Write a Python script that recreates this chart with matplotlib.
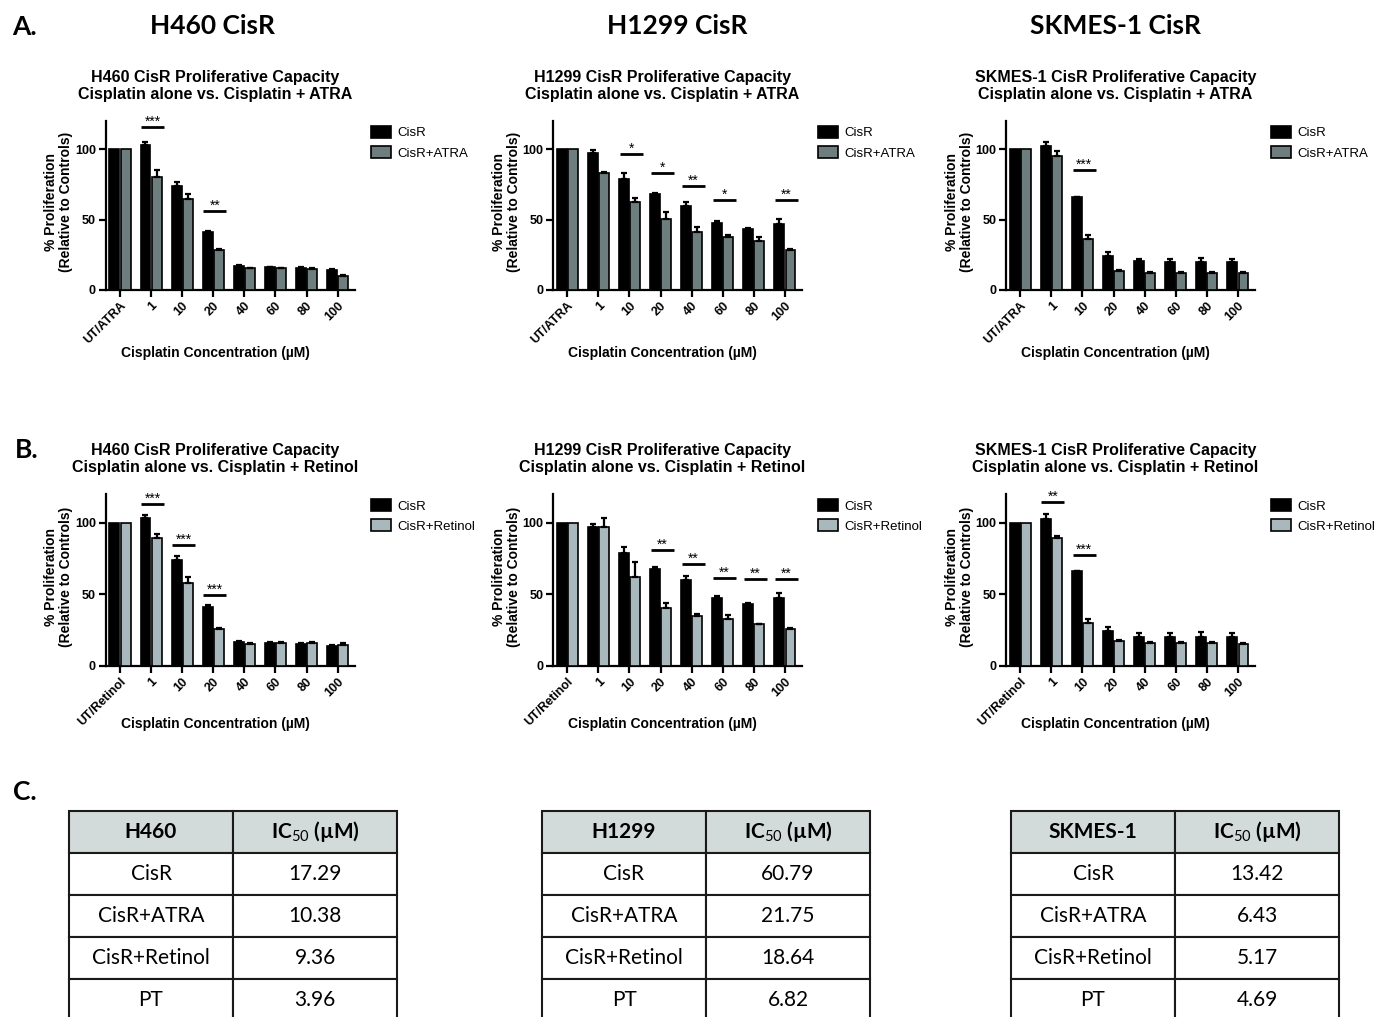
import numpy as np
import matplotlib

matplotlib.use("Agg")
import matplotlib.pyplot as plt

plt.rcParams.update({
    "font.family": "Liberation Sans",
    "mathtext.fontset": "custom",
    "mathtext.rm": "Lato",
    "mathtext.it": "Lato:italic",
    "mathtext.bf": "Lato:bold",
})

W, H = 1375, 1017
ATRA_GREY = "#6e7d7d"
RETINOL_GREY = "#a9b8bc"
HEADER_FILL = "#d3dbda"

conc_atra = ["UT/ATRA", "1", "10", "20", "40", "60", "80", "100"]
conc_retinol = ["UT/Retinol", "1", "10", "20", "40", "60", "80", "100"]

# --- A: cisplatin alone vs cisplatin + ATRA ---
h460_atra_cisr = [100, 102.8, 73.8, 41.0, 16.7, 16.0, 15.6, 14.2]
h460_atra_cisr_err = [0, 2.4, 2.6, 1.0, 0.7, 0.5, 0.5, 0.7]
h460_atra_combo = [100, 80.2, 64.6, 28.3, 15.3, 15.6, 14.6, 9.9]
h460_atra_combo_err = [0, 5.0, 3.3, 0.7, 0.3, 0.3, 0.7, 0.5]
h460_atra_sig = [(1, "***", 115.6), (3, "**", 55.9)]

h1299_atra_cisr = [100, 97.4, 78.5, 67.9, 59.7, 47.5, 43.3, 47.0]
h1299_atra_cisr_err = [0, 1.9, 4.7, 1.2, 3.0, 1.2, 0.7, 3.7]
h1299_atra_combo = [100, 83.1, 62.5, 50.4, 41.5, 37.9, 35.1, 28.6]
h1299_atra_combo_err = [0, 1.0, 3.0, 5.2, 3.0, 1.4, 2.8, 0.7]
h1299_atra_sig = [(2, "*", 96.5), (3, "*", 83.1), (4, "**", 73.8),
                  (5, "*", 63.9), (7, "**", 63.7)]

skmes_atra_cisr = [100, 101.9, 65.8, 24.1, 20.3, 20.0, 20.0, 20.0]
skmes_atra_cisr_err = [0, 3.3, 0.5, 3.0, 1.9, 2.0, 2.8, 2.0]
skmes_atra_combo = [100, 95.5, 36.3, 13.7, 12.3, 12.3, 12.3, 12.3]
skmes_atra_combo_err = [0, 3.3, 2.6, 0.6, 0.4, 0.4, 0.4, 0.4]
skmes_atra_sig = [(2, "***", 85.4)]

# --- B: cisplatin alone vs cisplatin + retinol ---
h460_ret_cisr = [100, 103.3, 73.9, 41.3, 17.0, 16.1, 15.6, 14.2]
h460_ret_cisr_err = [0, 2.0, 2.8, 1.2, 0.5, 0.5, 0.5, 0.5]
h460_ret_combo = [100, 89.0, 58.0, 26.1, 15.6, 16.1, 16.0, 14.9]
h460_ret_combo_err = [0, 2.8, 4.2, 0.5, 0.7, 0.7, 0.9, 0.9]
h460_ret_sig = [(1, "***", 113.0), (2, "***", 84.4), (3, "***", 49.4)]

h1299_ret_cisr = [100, 97.2, 78.6, 67.6, 59.9, 47.3, 43.1, 47.3]
h1299_ret_cisr_err = [0, 1.9, 4.7, 1.6, 2.8, 1.2, 1.2, 3.5]
h1299_ret_combo = [100, 97.2, 62.2, 40.8, 35.0, 33.1, 29.1, 25.6]
h1299_ret_combo_err = [0, 6.3, 10.5, 3.0, 1.2, 2.3, 0.5, 0.7]
h1299_ret_sig = [(3, "**", 81.1), (4, "**", 71.1), (5, "**", 61.3),
                 (6, "**", 60.8), (7, "**", 60.8)]

skmes_ret_cisr = [100, 102.6, 66.0, 24.5, 20.5, 20.0, 20.0, 20.0]
skmes_ret_cisr_err = [0, 3.3, 0.5, 3.0, 2.3, 2.8, 3.5, 2.8]
skmes_ret_combo = [100, 89.0, 29.8, 17.5, 15.9, 15.9, 15.9, 15.6]
skmes_ret_combo_err = [0, 1.4, 2.8, 0.7, 0.7, 0.7, 0.5, 0.5]
skmes_ret_sig = [(1, "**", 114.2), (2, "***", 77.2)]

# --- C: IC50 tables ---
table_rows = ["CisR", "CisR+ATRA", "CisR+Retinol", "PT"]
h460_ic50 = [17.29, 10.38, 9.36, 3.96]
h1299_ic50 = [60.79, 21.75, 18.64, 6.82]
skmes_ic50 = [13.42, 6.43, 5.17, 4.69]

BAR_W = 0.32
OFF = 0.18

fig = plt.figure(figsize=(W / 100, H / 100), dpi=100)
fig.patch.set_facecolor("white")


def bar_panel(rect, xlab_y, title, labels, cisr, cisr_err, combo, combo_err,
              combo_name, combo_color, sig):
    ax = fig.add_axes(rect)
    x = np.arange(len(labels))
    ax.bar(x - OFF, cisr, BAR_W, color="black", edgecolor="black",
           linewidth=1.2, label="CisR", zorder=3)
    ax.bar(x + OFF, combo, BAR_W, color=combo_color, edgecolor="black",
           linewidth=1.2, label=combo_name, zorder=3)
    # upper-only SEM bars
    for xs, m, e in ((x - OFF, cisr, cisr_err), (x + OFF, combo, combo_err)):
        m = np.asarray(m, float)
        e = np.asarray(e, float)
        keep = e > 0
        ax.errorbar(xs[keep], m[keep], yerr=[np.zeros(keep.sum()), e[keep]],
                    fmt="none", ecolor="black", elinewidth=1.6, capsize=2.5,
                    capthick=1.6, zorder=4)
    for i, stars, y in sig:
        ax.plot([i - 0.32, i + 0.42], [y, y], color="black", lw=2,
                solid_capstyle="butt", zorder=4)
        ax.text(i + 0.05, y + 1.0, stars, ha="center", va="baseline",
                fontsize=10)

    ax.set_xlim(-0.46, 7.55)
    ax.set_ylim(0, 120)
    ax.set_yticks([0, 50, 100])
    ax.set_xticks(x)
    ax.set_xticklabels(labels, rotation=45, ha="right",
                       rotation_mode="anchor", fontsize=9, fontweight="bold")
    for t in ax.get_yticklabels():
        t.set_fontsize(9)
        t.set_fontweight("bold")
    for s in ("top", "right"):
        ax.spines[s].set_visible(False)
    for s in ("left", "bottom"):
        ax.spines[s].set_linewidth(1.6)
    ax.tick_params(axis="both", direction="out", length=5, width=1.6, pad=2)

    ax.set_ylabel("% Proliferation\n(Relative to Controls)", fontsize=10,
                  fontweight="bold", linespacing=1.1)
    ax.yaxis.set_label_coords(-0.13, 0.52)
    ax.set_xlabel("Cisplatin Concentration (µM)", fontsize=10,
                  fontweight="bold", va="top")
    ax.xaxis.set_label_coords(0.44, xlab_y)
    ax.text(0.44, 1.112, title, transform=ax.transAxes, ha="center",
            va="bottom", fontsize=11.5, fontweight="bold", linespacing=1.15)
    ax.legend(loc="upper left", bbox_to_anchor=(1.065, 0.97), frameon=False,
              fontsize=9.5, handlelength=1.5, handleheight=1.0,
              labelspacing=0.5, borderpad=0, borderaxespad=0,
              handletextpad=0.5)
    return ax


col_left = [105.7, 553.0, 1006.0]
row_a = (290.0, 169.0, -0.331)
row_b = (666.0, 172.0, -0.297)
ax_w = 249.0


def rect(col, row):
    base, height, _ = row
    return [col_left[col] / W, 1 - base / H, ax_w / W, height / H]


atra_title = "{} CisR Proliferative Capacity\nCisplatin alone vs. Cisplatin + ATRA"
ret_title = "{} CisR Proliferative Capacity\nCisplatin alone vs. Cisplatin + Retinol"

bar_panel(rect(0, row_a), row_a[2], atra_title.format("H460"), conc_atra,
          h460_atra_cisr, h460_atra_cisr_err, h460_atra_combo,
          h460_atra_combo_err, "CisR+ATRA", ATRA_GREY, h460_atra_sig)
bar_panel(rect(1, row_a), row_a[2], atra_title.format("H1299"), conc_atra,
          h1299_atra_cisr, h1299_atra_cisr_err, h1299_atra_combo,
          h1299_atra_combo_err, "CisR+ATRA", ATRA_GREY, h1299_atra_sig)
bar_panel(rect(2, row_a), row_a[2], atra_title.format("SKMES-1"), conc_atra,
          skmes_atra_cisr, skmes_atra_cisr_err, skmes_atra_combo,
          skmes_atra_combo_err, "CisR+ATRA", ATRA_GREY, skmes_atra_sig)

bar_panel(rect(0, row_b), row_b[2], ret_title.format("H460"), conc_retinol,
          h460_ret_cisr, h460_ret_cisr_err, h460_ret_combo,
          h460_ret_combo_err, "CisR+Retinol", RETINOL_GREY, h460_ret_sig)
bar_panel(rect(1, row_b), row_b[2], ret_title.format("H1299"), conc_retinol,
          h1299_ret_cisr, h1299_ret_cisr_err, h1299_ret_combo,
          h1299_ret_combo_err, "CisR+Retinol", RETINOL_GREY, h1299_ret_sig)
bar_panel(rect(2, row_b), row_b[2], ret_title.format("SKMES-1"), conc_retinol,
          skmes_ret_cisr, skmes_ret_cisr_err, skmes_ret_combo,
          skmes_ret_combo_err, "CisR+Retinol", RETINOL_GREY, skmes_ret_sig)


def ic50_table(left_px, cell_line, values):
    tax = fig.add_axes([left_px / W, (H - 1021) / H, 328 / W, 210 / H])
    tax.axis("off")
    rows = [[name, f"{v:.2f}"] for name, v in zip(table_rows, values)]
    tbl = tax.table(cellText=rows, colLabels=[cell_line, r"IC$_{50}$ (µM)"],
                    cellLoc="center", bbox=[0, 0, 1, 1])
    tbl.auto_set_font_size(False)
    for (r, c), cell in tbl.get_celld().items():
        cell.set_edgecolor("#1a1a1a")
        cell.set_linewidth(1.5)
        txt = cell.get_text()
        txt.set_fontfamily("Lato")
        txt.set_fontsize(15)
        if r == 0:
            cell.set_facecolor(HEADER_FILL)
            txt.set_fontweight("bold")


ic50_table(69, "H460", h460_ic50)
ic50_table(542, "H1299", h1299_ic50)
ic50_table(1011, "SKMES-1", skmes_ic50)

# column headers and panel letters
head_kw = dict(fontfamily="Lato", fontweight="bold", fontsize=19,
               va="center")
for xc, name in ((212, "H460 CisR"), (677, "H1299 CisR"), (1115, "SKMES-1 CisR")):
    fig.text(xc / W, 1 - 26 / H, name, ha="center", **head_kw)
fig.text(12 / W, 1 - 27 / H, "A.", ha="left", **head_kw)
fig.text(15 / W, 1 - 450 / H, "B.", ha="left", **head_kw)
fig.text(13 / W, 1 - 792 / H, "C.", ha="left", **head_kw)

fig.savefig("out.png", dpi=100, facecolor="white")
